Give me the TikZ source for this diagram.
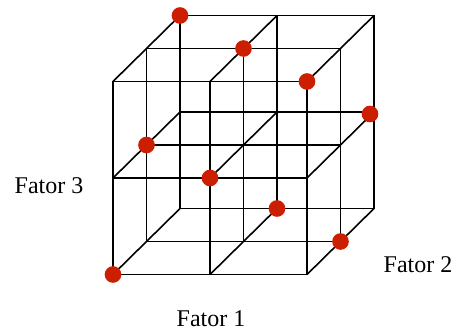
\documentclass[tikz,border=0pt]{standalone}
\usepackage{fontspec}
\setmainfont{Liberation Serif}
\usetikzlibrary{calc}
\definecolor{dotred}{RGB}{204,30,0}
\begin{document}
\begin{tikzpicture}[x=0.75pt,y=-0.75pt,
  grid/.style={line width=1.2pt, black},
  dot/.style={circle, fill=dotred, inner sep=0pt, minimum size=12.5pt},
  lab/.style={font=\fontsize{18}{20}\selectfont, inner sep=0pt}]
\useasboundingbox (0,0) rectangle (456,331);
\foreach \i in {0,1,2}{\foreach \j in {0,1,2}{\foreach \k in {0,1,2}{
  \coordinate (p\i\j\k) at ({113+97*\i+33.5*\k},{274.5-96.5*\j-33*\k});
}}}
\foreach \a in {0,1,2}{\foreach \b in {0,1,2}{
  \draw[grid] (p0\a\b) -- (p2\a\b);
  \draw[grid] (p\a0\b) -- (p\a2\b);
  \draw[grid] (p\a\b0) -- (p\a\b2);
}}
\node[dot] (d1) at (p022) {};
\node[dot] (d2) at (p121) {};
\node[dot] (d3) at (p220) {};
\node[dot] (d4) at ($(p212)+(-4,2)$) {};
\node[dot] (d5) at (p011) {};
\node[dot] (d6) at (p110) {};
\node[dot] (d7) at (p102) {};
\node[dot] (d8) at (p201) {};
\node[dot] (d9) at (p000) {};
\node[lab] (f1) at (211,319) {Fator 1};
\node[lab] (f2) at (418,265) {Fator 2};
\node[lab] (f3) at (49,186) {Fator 3};
\end{tikzpicture}
\end{document}
